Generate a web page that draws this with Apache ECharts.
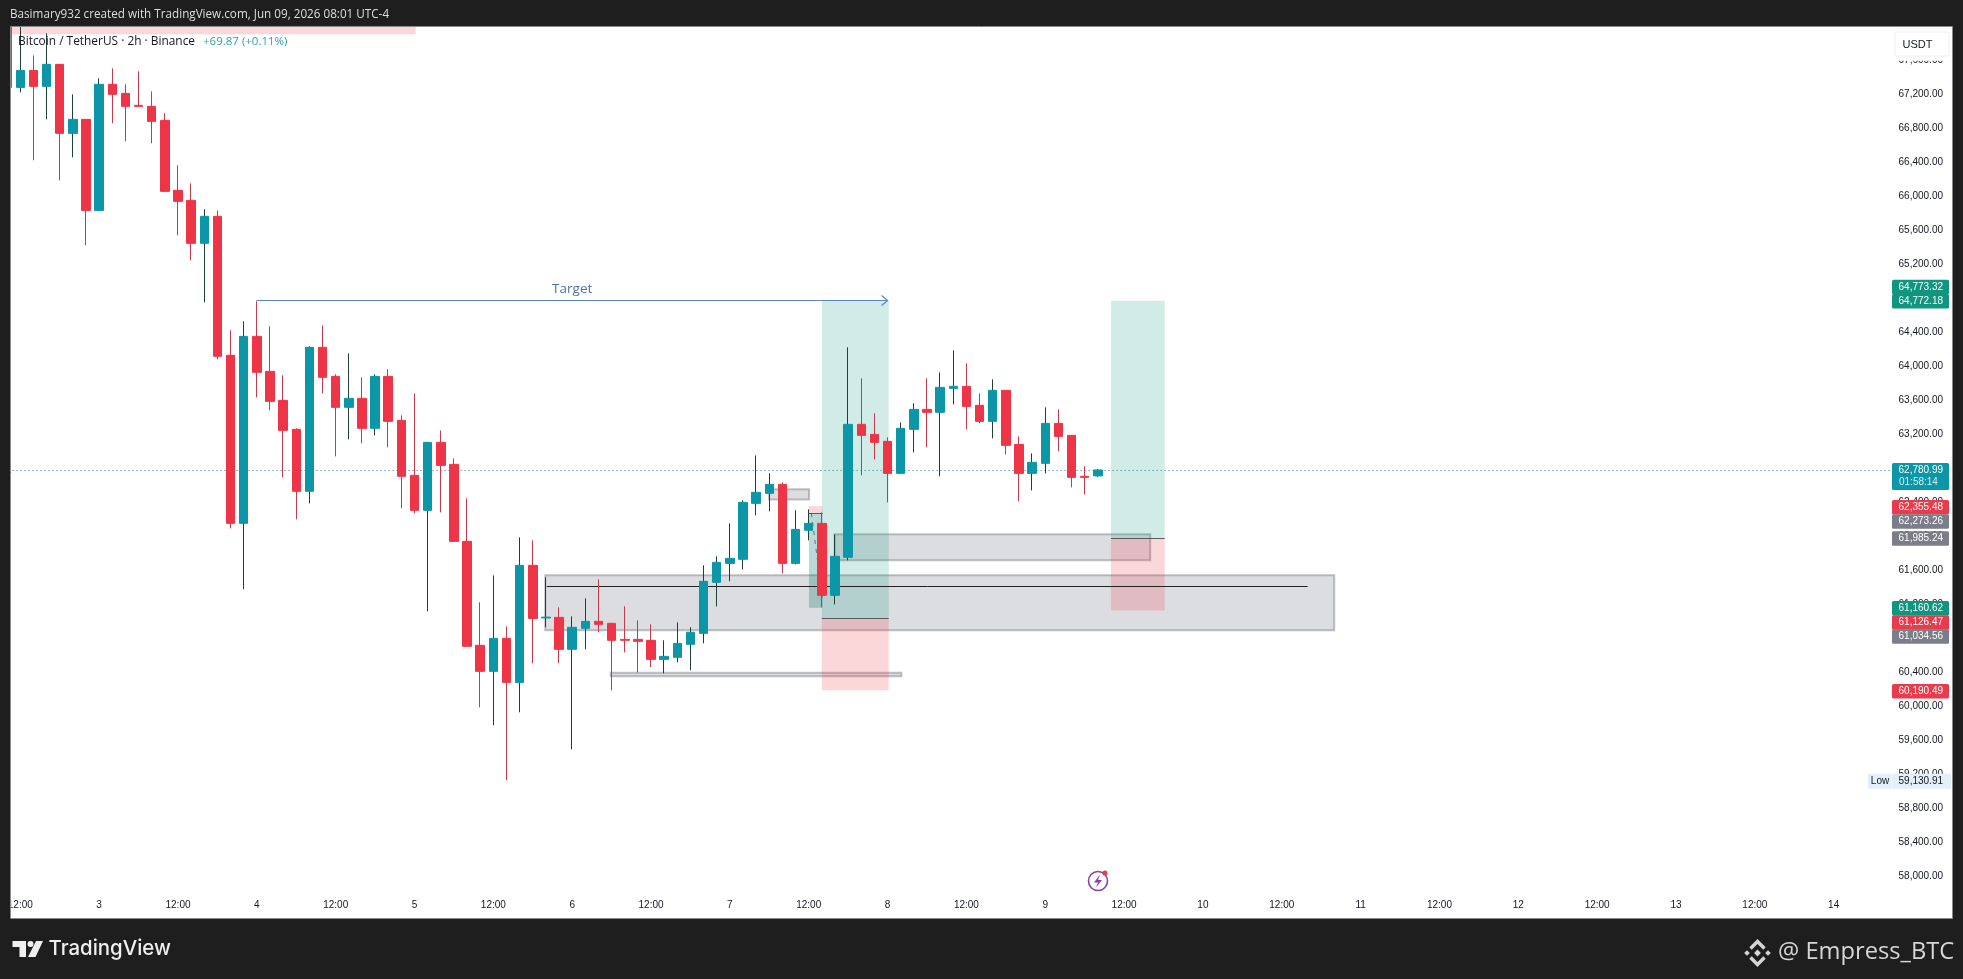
<!DOCTYPE html>
<html><head><meta charset="utf-8">
<style>html,body{margin:0;padding:0;background:#1e1e1e}#c{width:1963px;height:979px}</style>
<script src="https://cdn.jsdelivr.net/npm/echarts@6/dist/echarts.min.js"></script>
</head><body><div id="c"></div>
<script>
// ---- candles (2h bars, USDT) ----
const open = [68300,67282,67482,67294,67553,66741,66906,65835,67318,67212,67071,67059,66894,66071,65953,65447,65765,64130,62153,64353,63941,63600,63259,62530,64224,63882,63518,63624,63271,63882,63365,62718,62306,63106,62847,61941,60718,60412,60800,60282,61659,61040,61047,60671,60918,61000,60977,60788,60788,60777,60553,60577,60730,60859,61459,61682,61730,62388,62506,62612,61682,62071,62153,61306,61753,63318,63200,63118,62741,63259,63494,63459,63741,63765,63541,63353,63718,63082,62741,62859,63329,63188,62706,62711.12];
const close = [67282,67482,67294,67553,66741,66906,65835,67318,67200,67059,67059,66882,66059,65941,65447,65765,64118,62153,64353,63930,63588,63247,62530,64224,63871,63518,63624,63271,63882,63353,62706,62306,63106,62835,61941,60706,60412,60800,60282,61659,61035,61050,60671,60930,61000,60965,60777,60777,60765,60553,60588,60741,60871,61471,61694,61741,62400,62518,62612,61682,62082,62153,61306,61765,63318,63188,63106,62741,63271,63494,63459,63753,63765,63529,63353,63718,63071,62741,62871,63329,63176,62694,62694,62780.99];
const low = [67188,67224,66424,66906,66188,66459,65424,65824,66859,66647,67059,66624,66059,65541,65247,64753,64082,62094,61377,63635,63482,62694,62200,62388,63682,62941,63141,63094,63188,63047,62330,62271,61118,62282,61941,60706,59988,59777,59130.91,59930,60506,60930,60506,59494,60671,60871,60188,60635,60400,60459,60388,60518,60424,60741,61177,61471,61612,62247,62294,61565,61671,61953,61165,61200,61718,62718,62906,62400,62741,62988,63047,62706,63553,63259,63330,63153,62965,62412,62541,62741,63000,62576,62494,62700];
const high = [68400,68071,67659,67918,67553,67200,66906,67388,67506,67318,67471,67235,66977,66365,66153,65847,65835,64424,64530,64765,64471,63894,63271,64235,64482,63906,64153,63871,63906,63965,63424,63682,63106,63247,62918,62447,61224,61541,60941,61988,61953,61518,61165,61059,61271,61494,60977,61177,61012,60965,60777,60988,60930,61659,61765,62153,62424,62953,62741,62635,62306,62318,62282,62024,64224,63859,63447,63165,63341,63565,63859,63929,64188,64035,63682,63847,63718,63176,62976,63518,63494,63188,62824,62790];

// ---- axes ----
const barSlots = 149;
const firstTickBar = 1, tickStep = 6;
const xTickLabels = ['12:00','3','12:00','4','12:00','5','12:00','6','12:00','7','12:00','8','12:00','9','12:00','10','12:00','11','12:00','12','12:00','13','12:00','14'];
const yMin = 57600, yMax = 68000, yStep = 400;

// ---- drawings: [barFrom, barTo, priceTop, priceBottom] ----
const grayZones = [[40.95,100.99,61541,60894],[62.98,86.99,62024,61718],[57.98,61.03,62553,62435],[45.93,68.05,60394,60353]];
const greenZones = [[62,67.09,64773.32,61034.56],[84,88.09,64772.18,61985.24],[61.02,62.06,62273.26,61160.62]];
const redZones = [[62,67.09,61034.56,60190.49],[84,88.09,61985.24,61126.47],[61.02,62.06,62355.48,62273.26],[-0.5,31.09,68000,67906]];
// [barFrom, barTo, price]
const blackLines = [[41.06,98.97,61412]];
const entryLines = [[62,67.09,61034.56],[84,88.09,61985.24],[61.02,62.06,62273.26]];
const lastPrice = 62780.99;
const lastPriceLineEnd = 143.3;
const targetArrow = [18.97,67.0,64773];
const targetText = 'Target', targetTextBar = 43;
const tradeDash = [61.2,62.06,62273,61247];

// ---- price tags ----
const tagPrices = [64773.32,64772.18,62355.48,62273.26,61985.24,61160.62,61126.47,61034.56,60190.49];
const tagColors = ['#10967f','#10967f','#e83b4c','#7b7e88','#7b7e88','#10967f','#e83b4c','#7b7e88','#e83b4c'];
const tagNudges = [-13.5,0.5,1,8.5,1,0.5,12,18,1];
const countdown = '01:58:14';
const lowPrice = 59130.91;

const fmt = v => v.toLocaleString('en-US',{minimumFractionDigits:2,maximumFractionDigits:2});
const FONT = 'Liberation Sans';

const xLabels = new Array(barSlots).fill('');
xTickLabels.forEach((t,i)=>{ xLabels[firstTickBar + i*tickStep] = t; });
const categories = xLabels.map((_,i)=>String(i));

const wickData = open.map((o,i)=>[o,close[i],low[i],high[i]]);
const bodyData = open.map((o,i)=>[o,close[i],Math.min(o,close[i]),Math.max(o,close[i])]);

const UP = '#0b97a8', DOWN = '#ee3548', UPW = '#1f4034', DOWNW = '#c23b4d';

const shapes = [];
grayZones.forEach(z=>shapes.push({k:'rect',z,fill:'rgba(120,123,134,0.26)',stroke:'rgba(110,112,120,0.42)',lw:2}));
greenZones.forEach((z,i)=>shapes.push({k:'rect',z,fill:i===2?'rgba(8,120,110,0.28)':'rgba(8,153,129,0.19)'}));
redZones.forEach(z=>shapes.push({k:'rect',z,fill:'rgba(242,54,69,0.2)'}));
blackLines.forEach(l=>shapes.push({k:'line',l,stroke:'#222',lw:1}));
entryLines.forEach(l=>shapes.push({k:'line',l,stroke:'rgba(70,70,70,0.85)',lw:1}));
shapes.push({k:'line',l:[-0.5,lastPriceLineEnd,lastPrice],stroke:'#1f8a8f',lw:1,dash:[1,3]});
shapes.push({k:'dash',d:tradeDash});

function xy(api){
  const band = api.size([1,0])[0], x0 = api.coord([0,yMin])[0];
  return {X:n=>x0+n*band, Y:p=>api.coord([0,p])[1]};
}
function drawShape(params, api){
  const s = shapes[params.dataIndex], {X,Y} = xy(api);
  if (s.k==='rect'){
    const [a,b,t,u] = s.z;
    return {type:'rect',shape:{x:X(a),y:Y(t),width:X(b)-X(a),height:Y(u)-Y(t)},
      style:{fill:s.fill,stroke:s.stroke||null,lineWidth:s.lw||0}};
  }
  if (s.k==='line'){
    const [a,b,p] = s.l, y = Math.round(Y(p))+0.5;
    return {type:'line',shape:{x1:X(a),y1:y,x2:X(b),y2:y},
      style:{stroke:s.stroke,lineWidth:s.lw,lineDash:s.dash||null}};
  }
  const [a,b,p,q] = s.d;
  return {type:'line',shape:{x1:X(a),y1:Y(p),x2:X(b),y2:Y(q)},
    style:{stroke:'rgba(60,70,75,0.7)',lineWidth:1,lineDash:[4,5]}};
}
function drawArrow(params, api){
  const {X,Y} = xy(api), [a,b,p] = targetArrow, y=Math.floor(Y(p))+0.5, xe=X(b);
  const c='#5f84c2';
  return {type:'group',children:[
    {type:'line',shape:{x1:X(a),y1:y,x2:xe,y2:y},style:{stroke:c,lineWidth:1}},
    {type:'polyline',shape:{points:[[xe-6,y-5],[xe,y],[xe-6,y+5]]},style:{stroke:c,lineWidth:1.2,fill:null}},
    {type:'text',style:{x:X(targetTextBar),y:y-11,text:targetText,fill:'#4d70a8',font:'13.5px "Open Sans"',textAlign:'center',textVerticalAlign:'middle'}}
  ]};
}
function drawTag(params, api){
  const i = params.dataIndex, {X,Y} = xy(api);
  const right = X(barSlots-0.5)-9.5, left = right-57;
  const y = Y(tagPrices[i])+tagNudges[i];
  return {type:'group',children:[
    {type:'rect',shape:{x:left,y:y-7.25,width:57,height:14.5,r:1.5},style:{fill:tagColors[i]}},
    {type:'text',style:{x:right-6,y:y,text:fmt(tagPrices[i]),fill:'#ffffff',font:'10px "'+FONT+'"',textAlign:'right',textVerticalAlign:'middle'}}
  ]};
}
function drawLast(params, api){
  const {X,Y} = xy(api), right = X(barSlots-0.5)-9.5, left = right-57, y = Y(lastPrice);
  return {type:'group',children:[
    {type:'rect',shape:{x:left,y:y-7,width:57,height:27,r:1.5},style:{fill:UP}},
    {type:'text',style:{x:right-6,y:y,text:fmt(lastPrice),fill:'#ffffff',font:'10px "'+FONT+'"',textAlign:'right',textVerticalAlign:'middle'}},
    {type:'text',style:{x:left+7,y:y+12.5,text:countdown,fill:'#cfeef2',font:'10px "'+FONT+'"',textAlign:'left',textVerticalAlign:'middle'}}
  ]};
}
function drawLow(params, api){
  const {X,Y} = xy(api), right = X(barSlots-0.5)-9.5, left = right-57, y = Y(lowPrice)+1;
  return {type:'group',children:[
    {type:'rect',shape:{x:left-24,y:y-7.5,width:23.5,height:15},style:{fill:'#e3eff9'}},
    {type:'rect',shape:{x:left,y:y-7.5,width:59,height:15},style:{fill:'#e3eff9'}},
    {type:'text',style:{x:left-12,y:y,text:'Low',fill:'#131722',font:'10px "'+FONT+'"',textAlign:'center',textVerticalAlign:'middle'}},
    {type:'text',style:{x:right-6,y:y,text:fmt(lowPrice),fill:'#131722',font:'10px "'+FONT+'"',textAlign:'right',textVerticalAlign:'middle'}}
  ]};
}

const DARK = '#1e1e1e';
const frame = [[0,0,1963,27],[0,0,11,979],[1952.5,0,10.5,979],[0,918.5,1963,60.5]];
const g = [];
// USDT box (price scale background hides the tick under it)
g.push({type:'rect',z:59,shape:{x:1890,y:56,width:60,height:4.8},style:{fill:'#fff'}});
g.push({type:'rect',z:60,shape:{x:1895,y:32,width:54,height:24,r:2},style:{fill:'#fff',stroke:'#f0f0f0',lineWidth:1}});
g.push({type:'text',z:61,style:{x:1917.5,y:44.7,text:'USDT',fill:'#131722',font:'11px "'+FONT+'"',textAlign:'center',textVerticalAlign:'middle'}});
// legend
g.push({type:'text',z:61,style:{x:18,y:42,text:'Bitcoin / TetherUS · 2h · Binance',fill:'#131722',font:'11.9px "Open Sans"',textVerticalAlign:'middle'}});
g.push({type:'text',z:61,style:{x:203,y:42,text:'+69.87 (+0.11%)',fill:'#2fa3ae',font:'11.5px "Open Sans"',textVerticalAlign:'middle'}});
// frame
frame.forEach(r=>g.push({type:'rect',z:70,shape:{x:r[0],y:r[1],width:r[2],height:r[3]},style:{fill:DARK}}));
g.push({type:'rect',z:71,shape:{x:10.5,y:26.5,width:1942,height:892},style:{fill:null,stroke:'#8a8a8a',lineWidth:1}});
// header
g.push({type:'text',z:72,style:{x:10,y:15,text:'Basimary932 created with TradingView.com, Jun 09, 2026 08:01 UTC-4',fill:'#dedede',font:'11.7px "Open Sans"',textVerticalAlign:'middle'}});
// TradingView logo + word
g.push({type:'polygon',z:72,shape:{points:[[12.5,941],[26,941],[26,957],[19.5,957],[19.5,947],[12.5,947]]},style:{fill:'#efefef'}});
g.push({type:'circle',z:72,shape:{cx:30.5,cy:944,r:3},style:{fill:'#efefef'}});
g.push({type:'polygon',z:72,shape:{points:[[36,941],[43,941],[35.5,957],[28,957]]},style:{fill:'#efefef'}});
g.push({type:'text',z:72,style:{x:48.5,y:948.5,text:'TradingView',fill:'#efefef',font:'500 20.4px "Inter"',textVerticalAlign:'middle'}});
// Binance mark + handle
const bc='#d6d6d6', bx=1757.5, by=953;
const dia=(cx,cy,r)=>({type:'polygon',z:72,shape:{points:[[cx,cy-r],[cx+r,cy],[cx,cy+r],[cx-r,cy]]},style:{fill:bc}});
g.push(dia(bx,by,3.4),dia(bx-10.5,by,2.8),dia(bx+10.5,by,2.8));
g.push({type:'polyline',z:72,shape:{points:[[bx-7,by-4.5],[bx,by-11.5],[bx+7,by-4.5]]},style:{stroke:bc,lineWidth:3.4,fill:null}});
g.push({type:'polyline',z:72,shape:{points:[[bx-7,by+4.5],[bx,by+11.5],[bx+7,by+4.5]]},style:{stroke:bc,lineWidth:3.4,fill:null}});
g.push({type:'text',z:72,style:{x:1778,y:952,text:'@ Empress_BTC',fill:'#d6d6d6',font:'23.7px "Open Sans"',textVerticalAlign:'middle'}});
// lightning badge
g.push({type:'circle',z:61,shape:{cx:1098,cy:881,r:9.5},style:{fill:'#fff',stroke:'#8e3ea8',lineWidth:1.6}});
g.push({type:'polygon',z:62,shape:{points:[[1100,874.5],[1094,882.5],[1098,882.5],[1096,887.5],[1102,880],[1098,880]]},style:{fill:'#8e3ea8'}});
g.push({type:'circle',z:62,shape:{cx:1105,cy:873,r:2.6},style:{fill:'#e04050'}});

const chart = echarts.init(document.getElementById('c'),null,{renderer:'canvas'});
chart.setOption({
  animation:false,
  backgroundColor:'#ffffff',
  textStyle:{fontFamily:FONT},
  graphic:{elements:g},
  tooltip:{show:false},
  grid:{left:0.6,right:4.5,top:26.35,bottom:68.65,containLabel:false},
  xAxis:{type:'category',data:categories,boundaryGap:true,
    axisLine:{show:false},axisTick:{show:false},splitLine:{show:false},
    axisLabel:{interval:0,margin:-10,color:'#131722',fontSize:10,fontFamily:FONT,hideOverlap:false,
      formatter:(v,i)=>xLabels[i]}},
  yAxis:{type:'value',position:'right',min:yMin,max:yMax,interval:yStep,scale:true,
    axisLine:{show:false},axisTick:{show:false},splitLine:{show:false},
    axisLabel:{inside:true,margin:15.5,color:'#131722',fontSize:10,fontFamily:FONT,
      showMinLabel:true,showMaxLabel:true,
      formatter:v=>(v<58000||v>=68000)?'':fmt(v)}},
  series:[
    {name:'drawings',type:'custom',z:1,silent:true,renderItem:drawShape,data:shapes.map((s,i)=>[i,yMin])},
    {name:'wicks',type:'candlestick',z:2,silent:true,barWidth:1,data:wickData,
      itemStyle:{color:UPW,color0:DOWNW,borderColor:UPW,borderColor0:DOWNW,borderWidth:1}},
    {name:'BTCUSDT',type:'candlestick',z:3,silent:true,barWidth:9,data:bodyData,
      itemStyle:{color:UP,color0:DOWN,borderColor:UP,borderColor0:DOWN,borderWidth:1}},
    {name:'arrow',type:'custom',z:4,silent:true,renderItem:drawArrow,data:[[0,yMin]]},
    {name:'tags',type:'custom',z:5,silent:true,renderItem:drawTag,data:tagPrices.map((p,i)=>[i,p])},
    {name:'last',type:'custom',z:5,silent:true,renderItem:drawLast,data:[[0,lastPrice]]},
    {name:'low',type:'custom',z:5,silent:true,renderItem:drawLow,data:[[0,lowPrice]]}
  ]
});
</script></body></html>
